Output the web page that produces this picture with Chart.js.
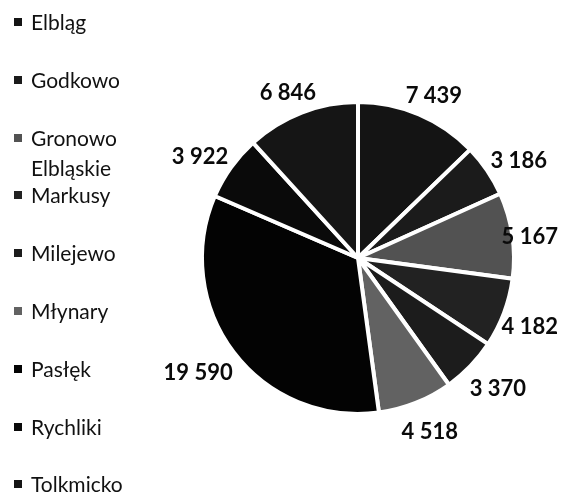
<!DOCTYPE html>
<html>
<head>
<meta charset="utf-8">
<script src="https://cdn.jsdelivr.net/npm/chart.js@4/dist/chart.umd.min.js"></script>
<style>
  html, body { margin: 0; padding: 0; background: #fff; }
  #wrap { position: relative; width: 566px; height: 492px; }
  #chart { position: absolute; left: 0; top: 0; }
  #legend { position: absolute; left: 0; top: 7px; font-family: Lato, sans-serif; font-size: 21px; color: #111; }
  .item { position: relative; height: 57.8px; }
  .box { position: absolute; left: 14px; top: 11px; width: 8px; height: 8px; }
  .txt { position: absolute; left: 31px; top: 0; width: 112px; line-height: 30px; white-space: normal; }
</style>
</head>
<body>
<div id="wrap">
  <canvas id="chart" width="566" height="492"></canvas>
  <div id="legend"></div>
</div>
<script>
// Gminy i wartości
const labels = ['Elbląg', 'Godkowo', 'Gronowo Elbląskie', 'Markusy', 'Milejewo', 'Młynary', 'Pasłęk', 'Rychliki', 'Tolkmicko'];
const values = [7439, 3186, 5167, 4182, 3370, 4518, 19590, 3922, 6846];
const colors = ['#141414', '#1b1b1b', '#525252', '#222222', '#1c1c1c', '#626262', '#030303', '#0a0a0a', '#151515'];

// Format liczby ze spacją jako separatorem tysięcy
function fmt(v) {
  return String(v).replace(/\B(?=(\d{3})+(?!\d))/g, ' ');
}

// Legenda w HTML (zawijanie długich nazw)
const legend = document.getElementById('legend');
labels.forEach((name, i) => {
  const item = document.createElement('div');
  item.className = 'item';
  item.innerHTML = `<span class="box" style="background:${colors[i]}"></span><span class="txt">${name}</span>`;
  legend.appendChild(item);
});

// Etykiety wartości poza wycinkami
const outsideLabels = {
  id: 'outsideLabels',
  afterDatasetsDraw(chart) {
    const ctx = chart.ctx;
    const meta = chart.getDatasetMeta(0);
    ctx.save();
    ctx.font = 'bold 22px Lato, sans-serif';
    ctx.fillStyle = '#0a0a0a';
    ctx.textAlign = 'center';
    ctx.textBaseline = 'middle';
    meta.data.forEach((arc, i) => {
      const p = arc.getProps(['x', 'y', 'startAngle', 'endAngle', 'outerRadius'], true);
      const mid = (p.startAngle + p.endAngle) / 2;
      const text = fmt(values[i]);
      const w = ctx.measureText(text).width;
      const h = 16;
      const r = p.outerRadius + 10;
      let x = p.x + Math.cos(mid) * r + Math.cos(mid) * w / 2;
      const y = p.y + Math.sin(mid) * r + Math.sin(mid) * h + 5;
      // nie wychodź poza płótno
      x = Math.min(x, chart.width - 8 - w / 2);
      ctx.fillText(text, x, y);
    });
    ctx.restore();
  }
};

new Chart(document.getElementById('chart').getContext('2d'), {
  type: 'pie',
  data: {
    labels: labels,
    datasets: [{
      data: values,
      backgroundColor: colors,
      borderColor: '#ffffff',
      borderWidth: 4
    }]
  },
  options: {
    responsive: false,
    animation: false,
    layout: { padding: { left: 200, right: 50, top: 100, bottom: 76 } },
    plugins: {
      legend: { display: false },
      tooltip: { enabled: false }
    }
  },
  plugins: [outsideLabels]
});
</script>
</body>
</html>
